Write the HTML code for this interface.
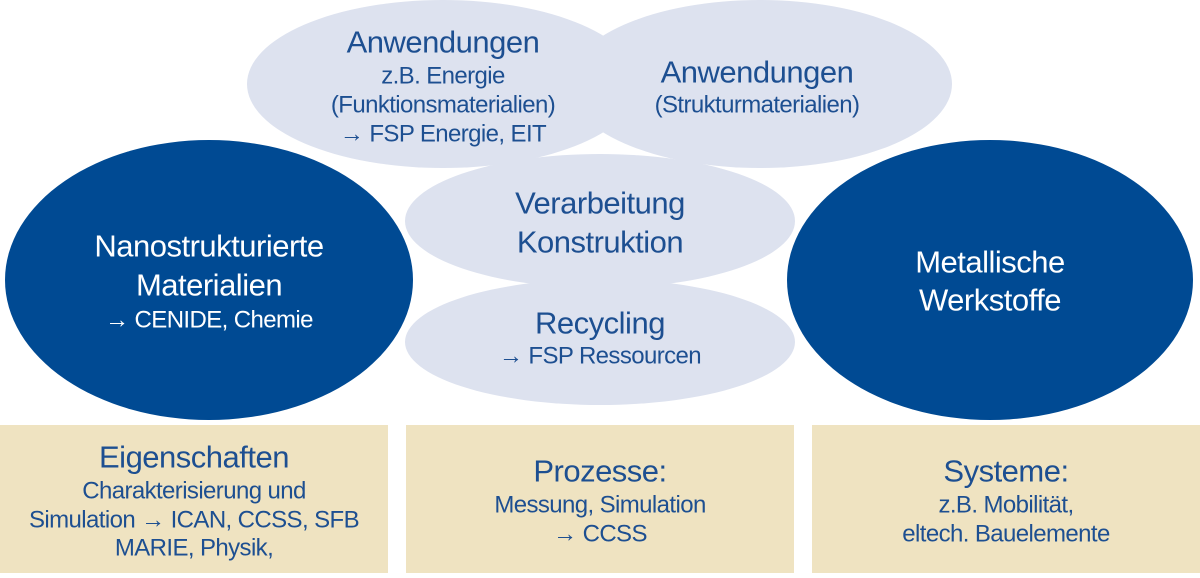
<!DOCTYPE html>
<html><head><meta charset="utf-8"><style>
html,body{margin:0;padding:0;background:#fff;width:1200px;height:578px;overflow:hidden}
svg{display:block}
text{font-family:"Liberation Sans",sans-serif;text-anchor:middle;dominant-baseline:central}
.b{fill:#1d4f91}.w{fill:#fff}
.h{font-size:31px;letter-spacing:-0.5px}.s{font-size:24px;letter-spacing:-0.6px}
</style></head><body>
<svg width="1200" height="578" viewBox="0 0 1200 578">
<rect x="0" y="425" width="388" height="148" fill="#efe3c1"/>
<rect x="406" y="425" width="388" height="148" fill="#efe3c1"/>
<rect x="812" y="425" width="388" height="148" fill="#efe3c1"/>
<g fill="#dde2ef">
<ellipse cx="760" cy="84" rx="192" ry="84"/>
<ellipse cx="443" cy="84" rx="196" ry="84"/>
<ellipse cx="600" cy="221" rx="195" ry="67"/>
<ellipse cx="600" cy="342" rx="195" ry="63"/>
</g>
<g fill="#004a93">
<ellipse cx="209" cy="280" rx="204" ry="140"/>
<ellipse cx="990" cy="280" rx="203" ry="140"/>
</g>
<g class="b">
<text x="443" y="42" class="h">Anwendungen</text>
<text x="443" y="76" class="s">z.B. Energie</text>
<text x="443" y="105" class="s">(Funktionsmaterialien)</text>
<text x="443" y="134" class="s">→ FSP Energie, EIT</text>
<text x="757" y="72" class="h">Anwendungen</text>
<text x="757" y="105" class="s">(Strukturmaterialien)</text>
<text x="600" y="203" class="h">Verarbeitung</text>
<text x="600" y="242" class="h">Konstruktion</text>
<text x="600" y="323" class="h">Recycling</text>
<text x="600" y="356" class="s">→ FSP Ressourcen</text>
<text x="194" y="457" class="h">Eigenschaften</text>
<text x="194" y="491" class="s">Charakterisierung und</text>
<text x="194" y="520" class="s">Simulation → ICAN, CCSS, SFB</text>
<text x="194" y="548" class="s">MARIE, Physik,</text>
<text x="600" y="471" class="h">Prozesse:</text>
<text x="600" y="505" class="s">Messung, Simulation</text>
<text x="600" y="534" class="s">→ CCSS</text>
<text x="1006" y="471" class="h">Systeme:</text>
<text x="1006" y="505" class="s">z.B. Mobilität,</text>
<text x="1006" y="534" class="s">eltech. Bauelemente</text>
</g>
<g class="w">
<text x="209" y="246" class="h">Nanostrukturierte</text>
<text x="209" y="285" class="h">Materialien</text>
<text x="209" y="320" class="s">→ CENIDE, Chemie</text>
<text x="990" y="262" class="h">Metallische</text>
<text x="990" y="300" class="h">Werkstoffe</text>
</g>
</svg>
</body></html>
